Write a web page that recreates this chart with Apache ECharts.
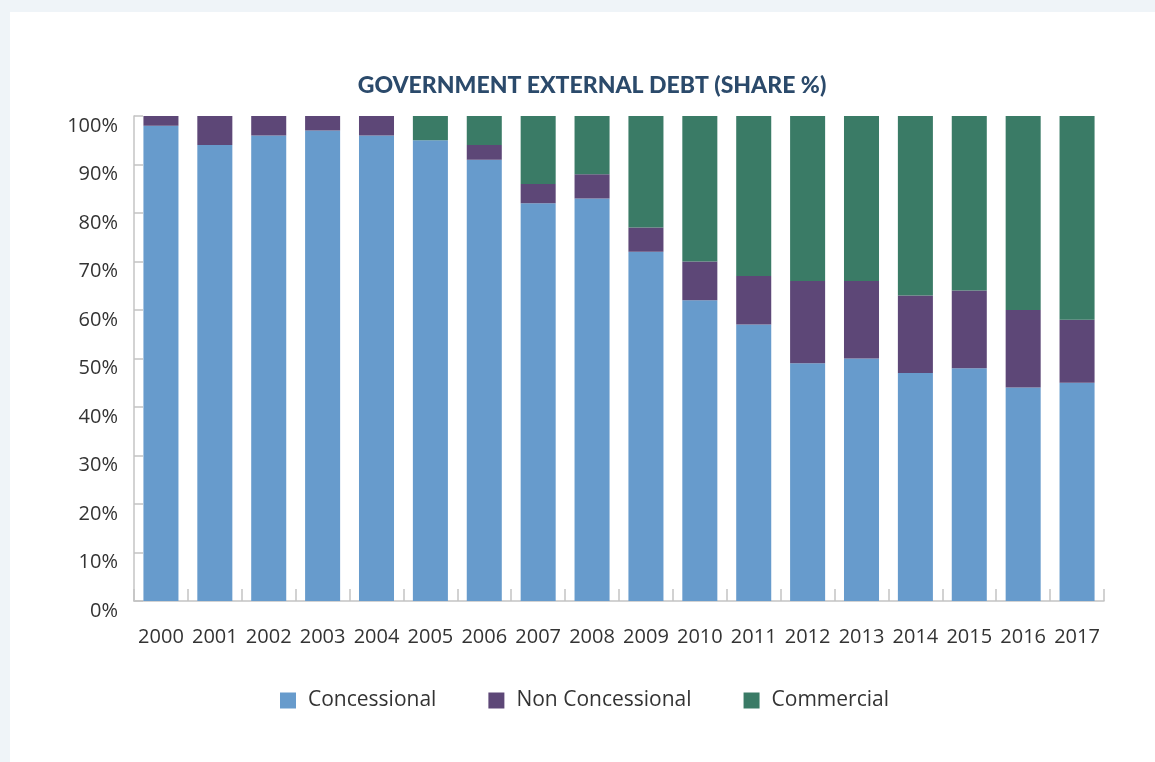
<!DOCTYPE html>
<html>
<head>
<meta charset="utf-8">
<script src="https://cdn.jsdelivr.net/npm/echarts@6/dist/echarts.min.js"></script>
<style>
html,body{margin:0;padding:0;background:#eff4f8;width:1155px;height:762px;overflow:hidden;}
#card{position:absolute;left:10px;top:12px;width:1145px;height:750px;background:#ffffff;}
#chart{position:absolute;left:0;top:0;width:1155px;height:762px;}
</style>
</head>
<body>
<div id="card"></div>
<div id="chart"></div>
<script>
const categories = ['2000','2001','2002','2003','2004','2005','2006','2007','2008','2009','2010','2011','2012','2013','2014','2015','2016','2017'];
const concessional    = [98, 94, 96, 97, 96, 95, 91, 82, 83, 72, 62, 57, 49, 50, 47, 48, 44, 45];
const nonConcessional = [ 2,  6,  4,  3,  4,  0,  3,  4,  5,  5,  8, 10, 17, 16, 16, 16, 16, 13];
const commercial      = [ 0,  0,  0,  0,  0,  5,  6, 14, 12, 23, 30, 33, 34, 34, 37, 36, 40, 42];
const seriesNames = ['Concessional', 'Non Concessional', 'Commercial'];
const yTicks = [0, 10, 20, 30, 40, 50, 60, 70, 80, 90, 100];

const chart = echarts.init(document.getElementById('chart'), null, {renderer: 'canvas'});
const font = '"Open Sans", Lato, sans-serif';
const axisGrey = '#c4c4c4';

chart.setOption({
  backgroundColor: 'transparent',
  animation: false,
  title: {
    text: 'GOVERNMENT EXTERNAL DEBT (SHARE %)',
    left: 587,
    top: 69,
    textAlign: 'center',
    textStyle: {fontFamily: 'Lato, sans-serif', fontSize: 23, fontWeight: 900, color: '#2b4a6b'}
  },
  legend: {
    left: 275,
    top: 685,
    itemWidth: 16,
    itemHeight: 16,
    itemGap: 52,
    icon: 'rect',
    textStyle: {fontFamily: font, fontSize: 21, color: '#333', padding: [0, 0, 0, 7]},
    data: seriesNames
  },
  grid: {left: 134, right: 51, top: 116, bottom: 161, containLabel: false},
  xAxis: {
    type: 'category',
    data: categories,
    boundaryGap: true,
    axisLine: {show: true, lineStyle: {color: axisGrey, width: 1.5}},
    axisTick: {show: true, inside: true, length: 12, lineStyle: {color: axisGrey, width: 1.5}},
    axisLabel: {fontFamily: font, fontSize: 20, color: '#333', margin: 26, interval: 0}
  },
  yAxis: {
    type: 'value',
    min: yTicks[0],
    max: yTicks[yTicks.length - 1],
    interval: 10,
    splitLine: {show: false},
    axisLine: {show: true, lineStyle: {color: axisGrey, width: 1.5}},
    axisTick: {show: true, inside: true, length: 9, lineStyle: {color: axisGrey, width: 1.5}},
    axisLabel: {fontFamily: font, fontSize: 20, color: '#333', margin: 16, formatter: '{value}%', verticalAlign: 'top', lineHeight: 20}
  },
  series: [
    {name: seriesNames[0], type: 'bar', stack: 'total', data: concessional, barWidth: '65%', itemStyle: {color: '#679bcc'}},
    {name: seriesNames[1], type: 'bar', stack: 'total', data: nonConcessional, barWidth: '65%', itemStyle: {color: '#5d4777'}},
    {name: seriesNames[2], type: 'bar', stack: 'total', data: commercial, barWidth: '65%', itemStyle: {color: '#3a7b66'}}
  ]
});
</script>
</body>
</html>
